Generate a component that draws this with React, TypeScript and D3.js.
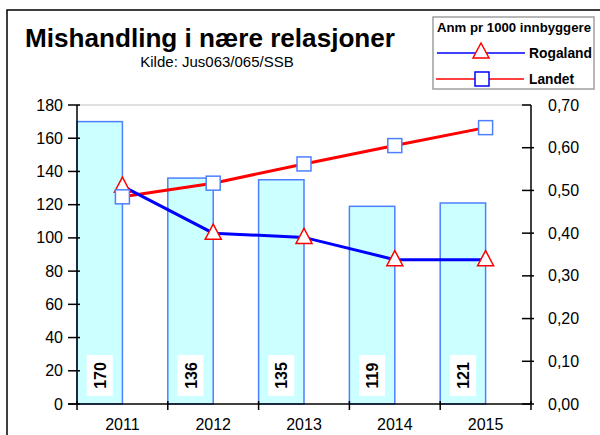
import React from "react";
import * as d3 from "d3";

const years = ["2011", "2012", "2013", "2014", "2015"];
const counts = [170, 136, 135, 119, 121];
const rogaland = [0.51, 0.4, 0.39, 0.338, 0.338];
const landet = [0.485, 0.517, 0.562, 0.605, 0.647];
const leftTicks = [0, 20, 40, 60, 80, 100, 120, 140, 160, 180];
const rightTicks = [0, 0.1, 0.2, 0.3, 0.4, 0.5, 0.6, 0.7];

const FONT = "Liberation Sans, Arial, sans-serif";

export default function App() {
  const L = 77, R = 531, T = 105, B = 404;
  const x = d3.scaleBand<string>().domain(years).range([L, R]).padding(0);
  const yL = d3.scaleLinear().domain([0, 180]).range([B, T]);
  const yR = d3.scaleLinear().domain([0, 0.7]).range([B, T]);
  const bw = x.bandwidth();
  const cx = (y: string) => (x(y) as number) + bw / 2;

  const line = d3
    .line<[number, number]>()
    .x((d) => d[0])
    .y((d) => d[1]);
  const rogPts: [number, number][] = years.map((y, i) => [cx(y), yR(rogaland[i])]);
  const landPts: [number, number][] = years.map((y, i) => [cx(y), yR(landet[i])]);

  const tri = (px: number, py: number) =>
    `M${px},${py - 9} L${px + 8},${py + 6} L${px - 8},${py + 6} Z`;

  return (
    <svg
      width={600}
      height={435}
      style={{ position: "absolute", left: 0, top: 0, background: "#fff" }}
      fontFamily={FONT}
    >
      <rect x={7} y={10} width={620} height={440} fill="#fff" stroke="#000" strokeWidth={1.5} />

      {/* Title */}
      <text x={210} y={47} textAnchor="middle" fontSize={25} fontWeight="bold" textLength={370} lengthAdjust="spacingAndGlyphs">
        Mishandling i nære relasjoner
      </text>
      <text x={217} y={67} textAnchor="middle" fontSize={15}>
        Kilde: Jus063/065/SSB
      </text>

      {/* plot area top border */}
      <line x1={L} x2={R} y1={T} y2={T} stroke="#c0c0c0" strokeWidth={1} />

      {/* Bars */}
      {years.map((y, i) => (
        <rect
          key={y}
          x={x(y) as number}
          y={yL(counts[i])}
          width={bw / 2}
          height={B - yL(counts[i])}
          fill="#ccffff"
          stroke="#4d80ff"
          strokeWidth={1.5}
        />
      ))}

      {/* Bar labels */}
      {years.map((y, i) => {
        const bx = (x(y) as number) + bw / 4;
        return (
          <g key={"lbl" + y}>
            <rect x={bx - 13} y={355} width={26} height={41} fill="#fff" />
            <text
              transform={`translate(${bx + 6},${375.5}) rotate(-90)`}
              textAnchor="middle"
              fontSize={16}
              fontWeight="bold"
            >
              {counts[i]}
            </text>
          </g>
        );
      })}

      {/* Left axis */}
      <line x1={L} x2={L} y1={T} y2={B} stroke="#000" strokeWidth={1.5} />
      {leftTicks.map((t) => (
        <g key={"l" + t}>
          <line x1={L - 9} x2={L + 3} y1={yL(t)} y2={yL(t)} stroke="#000" strokeWidth={1.5} />
          <text x={63} y={yL(t) + 5.5} textAnchor="end" fontSize={16}>
            {t}
          </text>
        </g>
      ))}

      {/* Right axis */}
      <line x1={R} x2={R} y1={T} y2={B} stroke="#000" strokeWidth={1.5} />
      {rightTicks.map((t) => (
        <g key={"r" + t}>
          <line x1={R - 9} x2={t === 0.7 ? R : R + 3} y1={yR(t)} y2={yR(t)} stroke="#000" strokeWidth={1.5} />
          <text x={548} y={yR(t) + 5.5} textAnchor="start" fontSize={16}>
            {d3.format(".2f")(t).replace(".", ",")}
          </text>
        </g>
      ))}

      {/* X axis */}
      <line x1={L - 9} x2={R} y1={B} y2={B} stroke="#000" strokeWidth={1.5} />
      {[...years.map((y) => x(y) as number), R].map((tx, i) => (
        <line key={"xt" + i} x1={tx} x2={tx} y1={B - 3} y2={B + 6} stroke="#000" strokeWidth={1.5} />
      ))}
      {years.map((y) => (
        <text key={"xl" + y} x={cx(y)} y={430} textAnchor="middle" fontSize={16}>
          {y}
        </text>
      ))}

      {/* Lines */}
      <path d={line(landPts) || ""} fill="none" stroke="#ff0000" strokeWidth={3} />
      <path d={line(rogPts) || ""} fill="none" stroke="#0000ff" strokeWidth={3} />
      {rogPts.map((p, i) => (
        <path key={"t" + i} d={tri(p[0], p[1])} fill="#fff" stroke="#ff0000" strokeWidth={1.5} />
      ))}
      {landPts.map((p, i) => (
        <rect key={"s" + i} x={p[0] - 7} y={p[1] - 7} width={14} height={14} fill="#fff" stroke="#4d80ff" strokeWidth={1.5} />
      ))}

      {/* Legend */}
      <rect x={433} y={17} width={161} height={72} fill="#fff" stroke="#a0a0a0" strokeWidth={1.5} />
      <text x={437} y={32} fontSize={13} fontWeight="bold" textLength={154} lengthAdjust="spacingAndGlyphs">
        Anm pr 1000 innbyggere
      </text>
      <line x1={437} x2={525} y1={53} y2={53} stroke="#0000ff" strokeWidth={1.5} />
      <path d={tri(481, 52)} fill="#fff" stroke="#ff0000" strokeWidth={1.5} />
      <text x={529} y={58} fontSize={14} fontWeight="bold" textLength={63} lengthAdjust="spacingAndGlyphs">
        Rogaland
      </text>
      <line x1={436} x2={524} y1={79} y2={79} stroke="#ff0000" strokeWidth={1.5} />
      <rect x={475} y={72} width={14} height={14} fill="#fff" stroke="#0000ff" strokeWidth={1.5} />
      <text x={529} y={84} fontSize={14} fontWeight="bold" textLength={45} lengthAdjust="spacingAndGlyphs">
        Landet
      </text>
    </svg>
  );
}
